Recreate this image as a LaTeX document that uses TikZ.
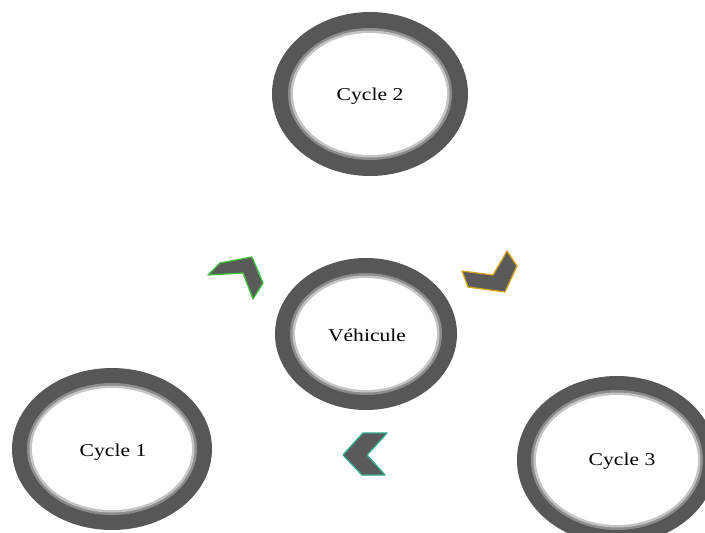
\documentclass[tikz,border=0pt]{standalone}
\usepackage{fontspec}
\setmainfont{Liberation Serif}
\usetikzlibrary{shapes.geometric}
\definecolor{ringdark}{HTML}{575757}
\definecolor{ringmid}{HTML}{8C8C8C}
\definecolor{ringlight}{HTML}{C4C4C4}
\definecolor{chevfill}{HTML}{5A5A5A}
\definecolor{cgreen}{HTML}{3DBE3D}
\definecolor{cgold}{HTML}{D9A520}
\definecolor{cteal}{HTML}{2FA88C}
\tikzset{
  lbl/.style={font=\fontsize{18}{21}\selectfont, text=black, xscale=1.2, inner sep=0pt},
  chev/.style={fill=chevfill, line width=1.3pt, line join=round},
}
\newcommand{\ringat}[5]{% center x, y, outer rx, outer ry, thickness
  \fill[ringdark] (#1,#2) ellipse [x radius=#3, y radius=#4];
  \fill[ringmid] (#1,#2) ellipse [x radius=#3-#5+5, y radius=#4-#5+5];
  \fill[ringlight] (#1,#2) ellipse [x radius=#3-#5+2.5, y radius=#4-#5+2.5];
  \fill[white] (#1,#2) ellipse [x radius=#3-#5, y radius=#4-#5];
}
\begin{document}
\begin{tikzpicture}[x=1pt,y=-1pt]
\useasboundingbox (0,0) rectangle (705,533);
\begin{scope}
\clip (0,0) rectangle (705,533);
\ringat{370}{94}{98}{82}{21}
\ringat{366}{334}{91}{76}{20}
\ringat{112}{449}{100}{81}{20}
\ringat{617}{460}{100}{84}{19}
\end{scope}
\node[lbl] (c2) at (370,96) {Cycle 2};
\node[lbl] (veh) at (367,335) {Véhicule};
\node[lbl] (c1) at (113,452) {Cycle 1};
\node[lbl] (c3) at (622,461) {Cycle 3};
% chevrons
\draw[chev, draw=cgreen] (208,275) -- (220,263) -- (252,257) -- (263,283) -- (253,299) -- (243,273) -- cycle;
\draw[chev, draw=cgold] (462,271) -- (493,275) -- (507,251) -- (517,266) -- (505,292) -- (468,287) -- cycle;
\draw[chev, draw=cteal] (343,455) -- (363,433) -- (387,433) -- (367,455) -- (385,475) -- (362,475) -- cycle;
\end{tikzpicture}
\end{document}
